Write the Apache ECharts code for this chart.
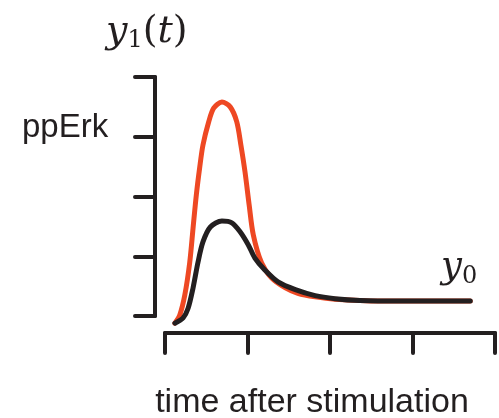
<!DOCTYPE html>
<html>
<head>
<meta charset="utf-8">
<script src="https://cdn.jsdelivr.net/npm/echarts@6/dist/echarts.min.js"></script>
<style>
  html, body { margin: 0; padding: 0; background: #ffffff; }
  #chart { width: 499px; height: 418px; }
</style>
</head>
<body>
<div id="chart"></div>
<script>
// time after stimulation (arbitrary units, ticks 0..4) and ppErk level (ticks 0..4)
const redTime = [0.12, 0.18, 0.24, 0.30, 0.34, 0.38, 0.42, 0.46, 0.53, 0.59, 0.69, 0.79, 0.87, 0.92, 0.97, 1.02, 1.07, 1.17, 1.29, 1.46, 1.61, 1.82, 2.06, 2.61, 3.70];
const redValue = [-0.12, 0.02, 0.35, 0.90, 1.47, 2.03, 2.48, 2.86, 3.25, 3.48, 3.58, 3.50, 3.25, 2.86, 2.41, 1.86, 1.36, 0.89, 0.64, 0.47, 0.38, 0.32, 0.28, 0.25, 0.25];
const blackTime = [0.12, 0.22, 0.28, 0.34, 0.40, 0.46, 0.55, 0.69, 0.81, 0.91, 1.01, 1.09, 1.21, 1.37, 1.58, 1.82, 2.06, 2.36, 2.85, 3.70];
const blackValue = [-0.12, -0.03, 0.13, 0.47, 0.90, 1.24, 1.49, 1.59, 1.56, 1.41, 1.19, 0.97, 0.77, 0.57, 0.44, 0.34, 0.29, 0.26, 0.25, 0.25];
const xTicks = [0, 1, 2, 3, 4];
const yTicks = [0, 1, 2, 3, 4];

const ink = '#231f20';
const red = '#ee4823';

const chart = echarts.init(document.getElementById('chart'));

const toPairs = (xs, ys) => xs.map((x, i) => [x, ys[i]]);

chart.setOption({
  animation: false,
  grid: { left: 165, right: 4, top: 77, bottom: 102, outerBoundsMode: 'none', containLabel: false },
  xAxis: {
    type: 'value',
    min: xTicks[0],
    max: xTicks[xTicks.length - 1],
    interval: 1,
    offset: 17,
    axisLine: { onZero: false, lineStyle: { color: ink, width: 4, cap: 'round' } },
    axisTick: { length: 20, lineStyle: { color: ink, width: 4, cap: 'round' } },
    axisLabel: { show: false },
    splitLine: { show: false },
    name: 'time after stimulation',
    nameLocation: 'middle',
    nameGap: 53,
    nameTextStyle: {
      fontFamily: 'Liberation Sans',
      fontSize: 34,
      color: ink,
      padding: [0, 36, 0, 0]
    }
  },
  yAxis: {
    type: 'value',
    min: yTicks[0],
    max: yTicks[yTicks.length - 1],
    interval: 1,
    offset: 10,
    axisLine: { show: true, onZero: false, lineStyle: { color: ink, width: 4, cap: 'round' } },
    axisTick: { show: true, length: 20, lineStyle: { color: ink, width: 4, cap: 'round' } },
    axisLabel: { show: false },
    splitLine: { show: false }
  },
  series: [
    {
      name: 'red',
      type: 'line',
      data: toPairs(redTime, redValue),
      smooth: 0.3,
      symbol: 'none',
      clip: false,
      lineStyle: { color: red, width: 5, cap: 'round' }
    },
    {
      name: 'black',
      type: 'line',
      data: toPairs(blackTime, blackValue),
      smooth: 0.3,
      symbol: 'none',
      clip: false,
      lineStyle: { color: ink, width: 5, cap: 'round' }
    }
  ],
  graphic: [
    {
      type: 'text',
      left: 22,
      top: 111,
      style: {
        text: 'ppErk',
        fontFamily: 'Liberation Sans',
        fontSize: 33,
        fill: ink
      }
    },
    {
      type: 'text',
      left: 106,
      top: 13,
      style: {
        text: '{it|y}{sub|1}{rm|(}{it|t}{rm|)}',
        fill: ink,
        rich: {
          it: { fontFamily: 'DejaVu Serif', fontStyle: 'italic', fontSize: 38, lineHeight: 42 },
          rm: { fontFamily: 'DejaVu Serif', fontSize: 38, lineHeight: 42 },
          sub: { fontFamily: 'DejaVu Serif', fontSize: 24, lineHeight: 27, verticalAlign: 'bottom' }
        }
      }
    },
    {
      type: 'text',
      left: 441,
      top: 249,
      style: {
        text: '{it|y}{sub|0}',
        fill: ink,
        rich: {
          it: { fontFamily: 'DejaVu Serif', fontStyle: 'italic', fontSize: 37, lineHeight: 42 },
          sub: { fontFamily: 'DejaVu Serif', fontSize: 24, lineHeight: 25, verticalAlign: 'bottom' }
        }
      }
    }
  ]
});
</script>
</body>
</html>
